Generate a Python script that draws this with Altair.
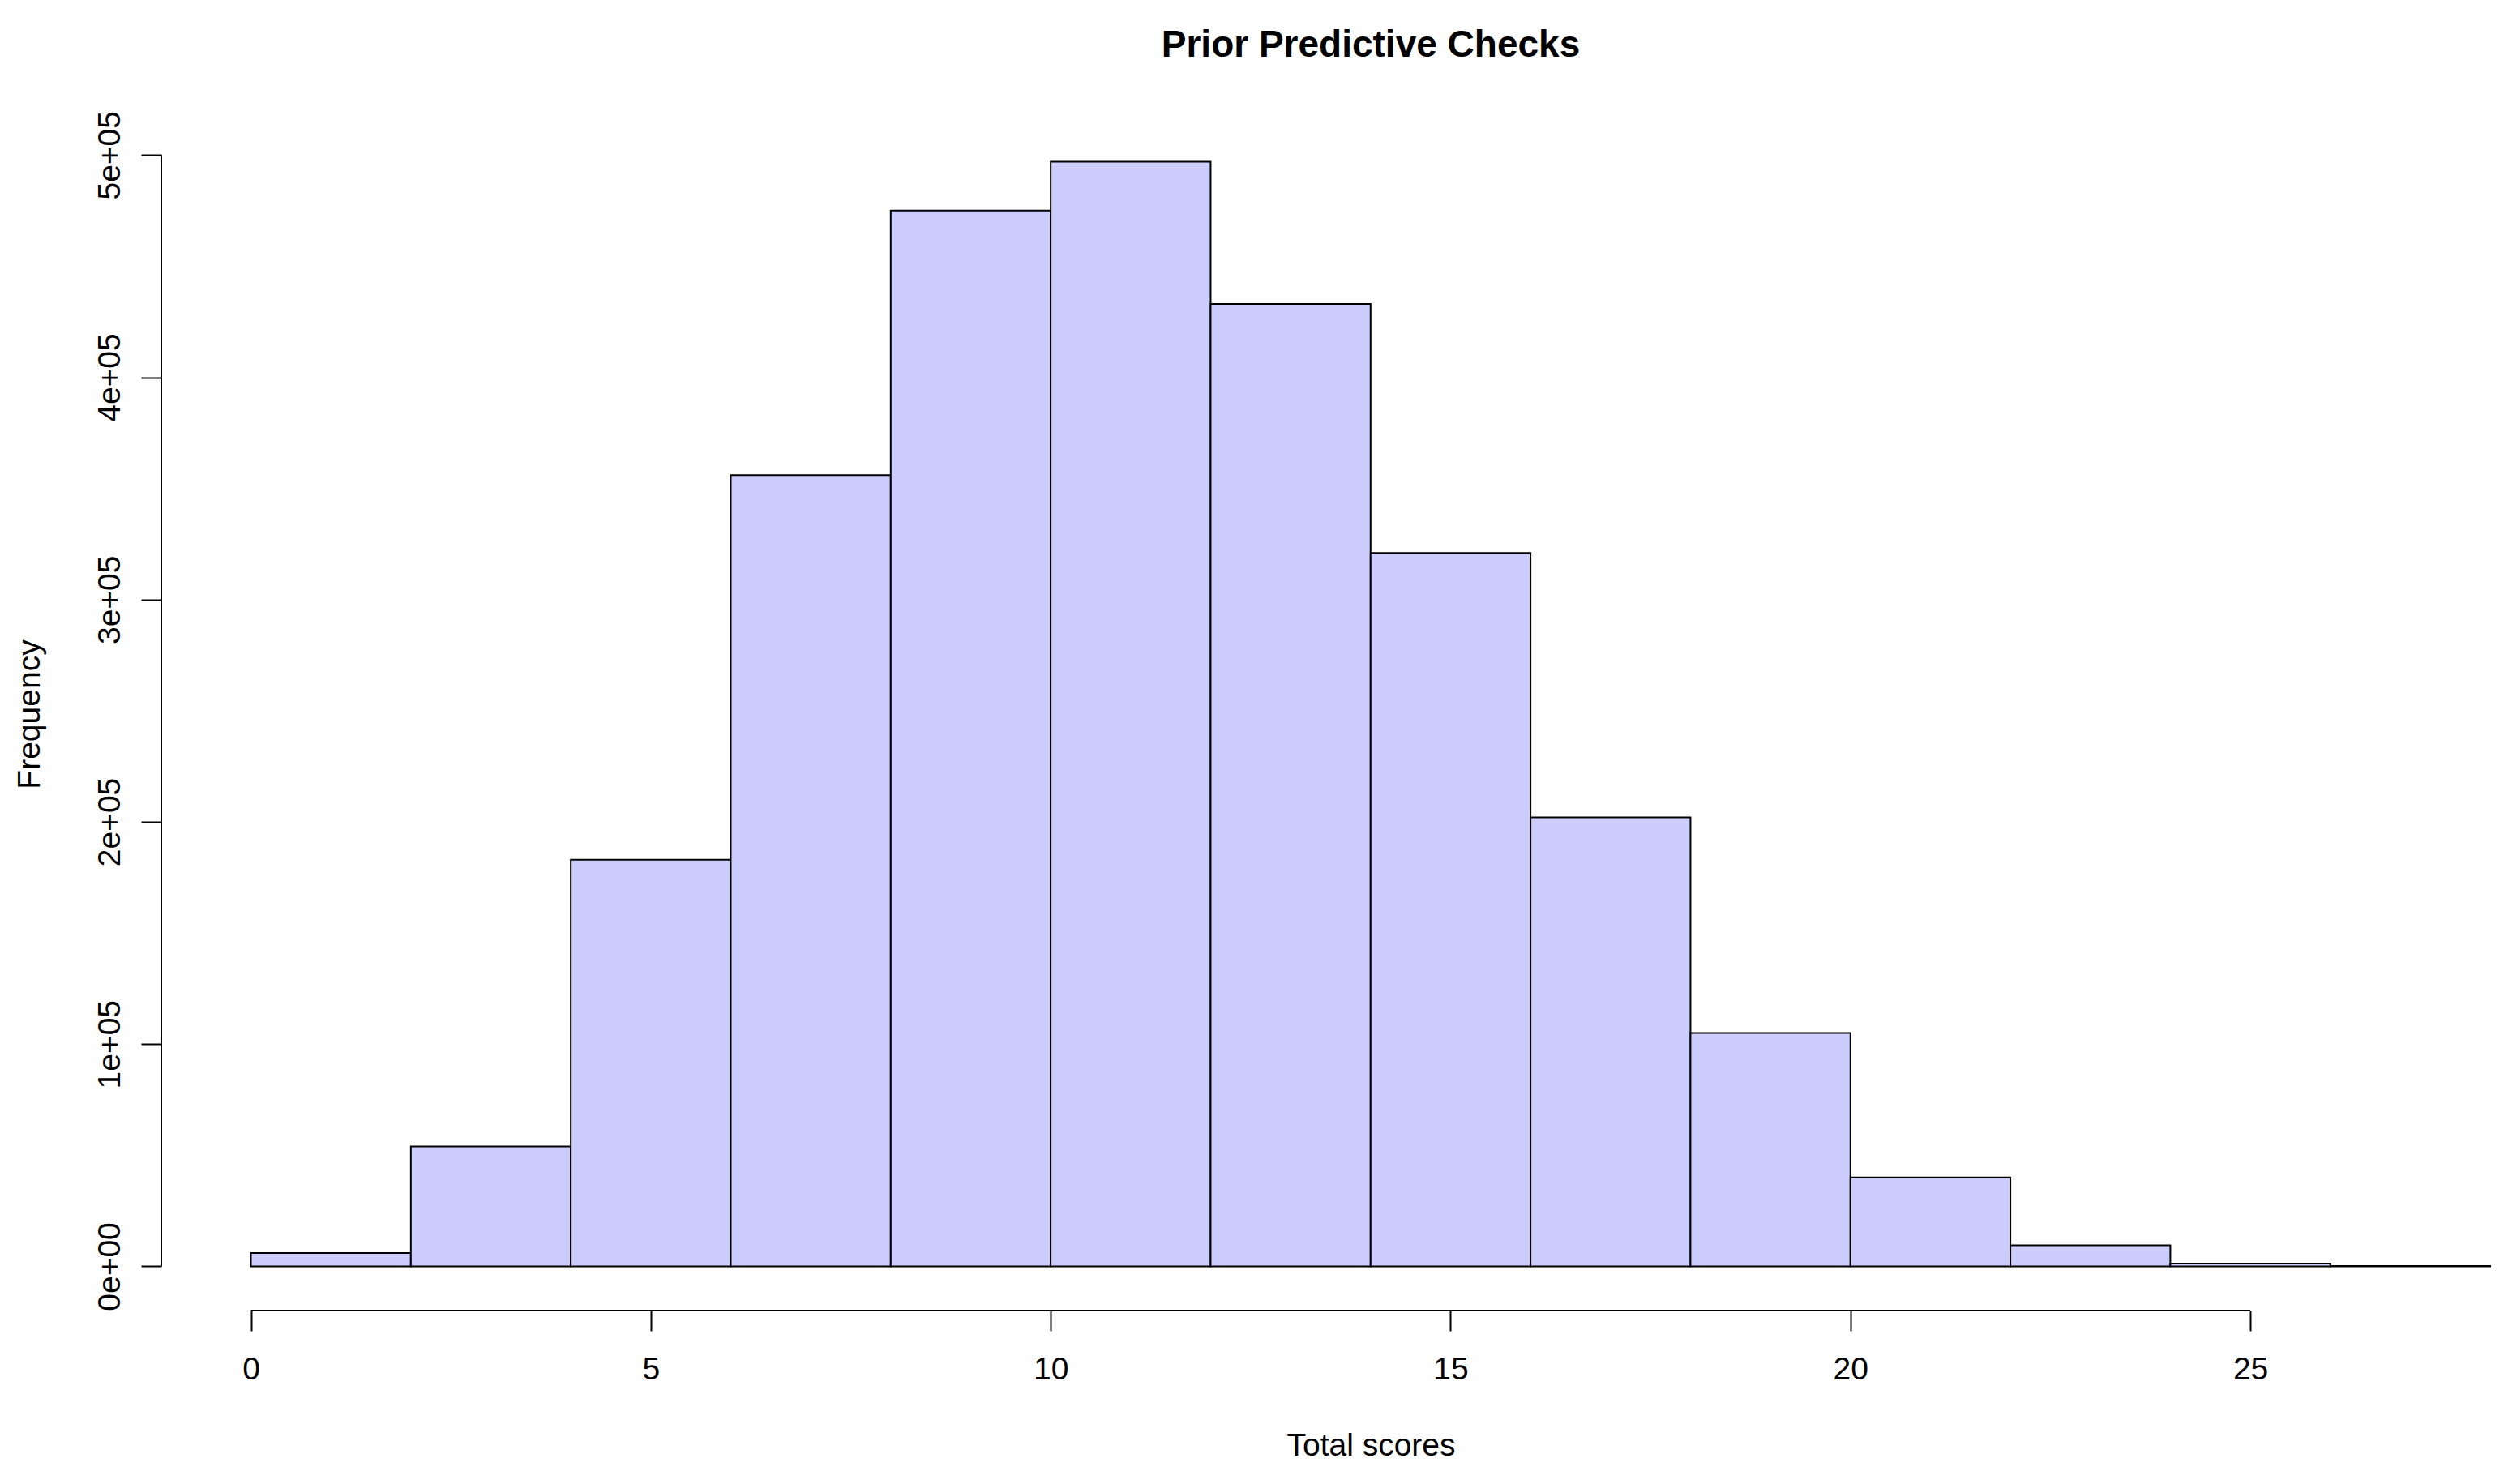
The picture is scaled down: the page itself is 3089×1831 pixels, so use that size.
import altair as alt
import pandas as pd

# ---- data ----
bin_start = [0, 2, 4, 6, 8, 10, 12, 14, 16, 18, 20, 22, 24, 26]
bin_end = [2, 4, 6, 8, 10, 12, 14, 16, 18, 20, 22, 24, 26, 28]
counts = [6000, 54000, 183000, 356000, 475000, 497000, 433000,
          321000, 202000, 105000, 40000, 9500, 1300, 150]
x_ticks = [0, 5, 10, 15, 20, 25]
y_ticks = [0, 100000, 200000, 300000, 400000, 500000]

title_text = "Prior Predictive Checks"
x_title = "Total scores"
y_title = "Frequency"

FONT = "Liberation Sans"
FS = 39
W, H = 2878, 1472

df = pd.DataFrame({"start": bin_start, "end": bin_end, "count": counts,
                   "base": [0] * len(counts)})

ymax = max(counts)
xscale = alt.Scale(domain=[-1.12, 28.05], nice=False, zero=False)
yscale = alt.Scale(domain=[-0.04 * ymax, 1.04 * ymax], nice=False, zero=False)

x_axis = alt.Axis(
    values=x_ticks, domain=False, grid=False, tickSize=25, tickWidth=2,
    tickColor="black", labelFont=FONT, labelFontSize=FS, labelColor="black",
    labelPadding=47, labelBaseline="middle", labelFlush=False,
    title=x_title, titleFont=FONT, titleFontSize=FS, titleFontWeight="normal",
    titleColor="black", titleX=1492, titleY=166, titleBaseline="middle",
    titleAlign="center", format="d",
)
y_axis = alt.Axis(
    values=y_ticks, domain=False, grid=False, tickSize=25, tickWidth=2,
    tickColor="black", labelFont=FONT, labelFontSize=FS, labelColor="black",
    labelAngle=270, labelAlign="center", labelBaseline="alphabetic",
    labelPadding=27, labelFlush=False,
    labelExpr="format(datum.value / 100000, 'd') + (datum.value == 0 ? 'e+00' : 'e+05')",
    title=y_title, titleFont=FONT, titleFontSize=FS, titleFontWeight="normal",
    titleColor="black", titleX=-163, titleY=736, titleAngle=270,
    titleBaseline="middle", titleAlign="center",
)

bars = alt.Chart(df).mark_rect(
    fill="#CCCCFF", stroke="black", strokeWidth=2
).encode(
    x=alt.X("start:Q", scale=xscale, axis=x_axis),
    x2="end:Q",
    y=alt.Y("count:Q", scale=yscale, axis=y_axis),
    y2="base:Q",
)

xline_df = pd.DataFrame({"a": [x_ticks[0]], "b": [x_ticks[-1]]})
yline_df = pd.DataFrame({"a": [y_ticks[0]], "b": [y_ticks[-1]]})

x_line = alt.Chart(xline_df).mark_rule(color="black", strokeWidth=2).encode(
    x=alt.X("a:Q", scale=xscale), x2="b:Q", y=alt.value(H)
)
y_line = alt.Chart(yline_df).mark_rule(color="black", strokeWidth=2).encode(
    y=alt.Y("a:Q", scale=yscale), y2="b:Q", x=alt.value(0)
)

chart = alt.layer(bars, x_line, y_line).properties(
    width=W, height=H,
    title=alt.TitleParams(title_text, font=FONT, fontSize=46, fontWeight="bold",
                          color="black", anchor="middle", dx=53, offset=21,
                          baseline="alphabetic"),
    autosize=alt.AutoSizeParams(type="none"),
    padding={"left": 191, "top": 137, "right": 0, "bottom": 190},
    view=alt.ViewBackground(stroke="transparent", strokeWidth=0, fill="white"),
).configure_view(stroke="transparent", strokeWidth=0).configure(background="white")

chart.save("out.html", embed_options={"renderer": "svg", "actions": False})
